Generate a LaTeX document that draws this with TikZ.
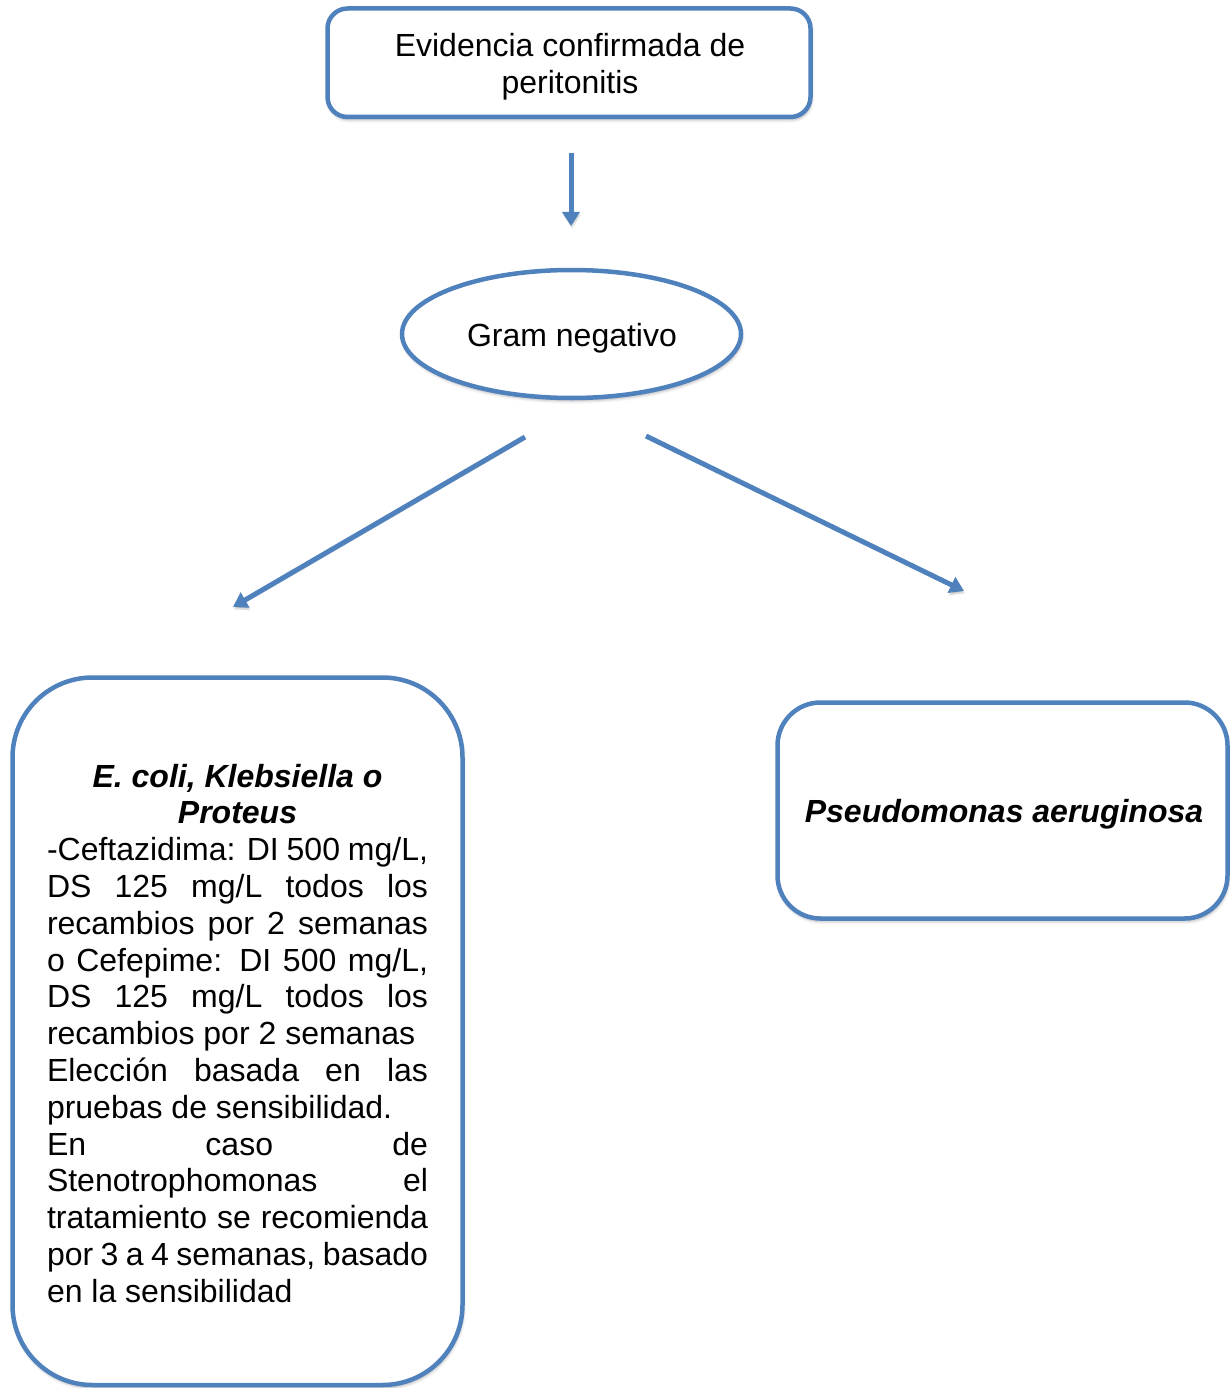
\documentclass[tikz,border=0pt]{standalone}
\usepackage{fontspec}
\setmainfont{Liberation Sans}
\usetikzlibrary{arrows.meta,shapes.geometric,shadows.blur}
\definecolor{ofblue}{HTML}{4F81BD}
\hbadness=10000
% centred stack of lines, baseline on the first line
\newcommand\cstack[1]{\vtop{\halign{\hfil##\hfil\cr#1\crcr}}}
% lines of the treatment text
\newcommand\jline[1]{\hbox to\hsize{#1}}
\newcommand\lline[1]{\hbox to\hsize{#1\hfil}}
\newcommand\headline[1]{\hbox to\hsize{\hfil\bfseries\itshape #1\hfil}}
\begin{document}
\begin{tikzpicture}[x=1pt,y=-1pt,
  every node/.style={font=\fontsize{32}{36.8}\selectfont, inner sep=0pt, outer sep=0pt},
  softshadow/.style={blur shadow={shadow xshift=1pt, shadow yshift=-3pt,
      shadow opacity=30, shadow blur radius=3pt}},
  boxshape/.style={draw=ofblue, line width=4.5pt, fill=white,
      rounded corners=#1, softshadow},
  ovalshape/.style={ellipse, draw=ofblue, line width=4.5pt, fill=white, softshadow},
  arr/.style={draw=ofblue, line width=5pt,
      -{Triangle[length=14pt,width=17pt]},
      preaction={draw=black, opacity=0.12,
        transform canvas={xshift=1pt,yshift=-2.5pt}}},
]
\useasboundingbox (0,0) rectangle (1230,1388);

% boxes
\node (evid) [boxshape=20pt, minimum width=483pt, minimum height=108.5pt]
  at (569,62.75) {};
\node (gram) [ovalshape, minimum width=339pt, minimum height=128pt]
  at (571.5,334) {};
\node (ecoli) [boxshape=80pt, minimum width=450pt, minimum height=707.5pt]
  at (237.5,1031.25) {};
\node (pseudo) [boxshape=43pt, minimum width=450pt, minimum height=216pt]
  at (1002.5,810.5) {};

% texts
\node (evidtxt) [anchor=base] at (570,57)
  {\cstack{Evidencia confirmada de\cr peritonitis}};
\node (gramtxt) [anchor=base] at (572,346) {Gram negativo};
\node (pseudotxt) [anchor=base] at (1004,822)
  {\bfseries\itshape Pseudomonas aeruginosa};
\node (ecolitxt) [anchor=base west] at (47,787) {\vtop{\hsize=381pt
  \headline{E. coli, Klebsiella o}
  \headline{Proteus}
  \jline{-Ceftazidima: DI 500 mg/L,}
  \jline{DS 125 mg/L todos los}
  \jline{recambios por 2 semanas}
  \jline{o Cefepime: DI 500 mg/L,}
  \jline{DS 125 mg/L todos los}
  \lline{recambios por 2 semanas}
  \jline{Elección basada en las}
  \lline{pruebas de sensibilidad.}
  \jline{En caso de}
  \jline{Stenotrophomonas el}
  \jline{tratamiento se recomienda}
  \jline{por 3 a 4 semanas, basado}
  \lline{en la sensibilidad}}};

% connectors
\coordinate (a1s) at (571,153);
\coordinate (a1e) at (571,226);
\coordinate (a2s) at (525,437);
\coordinate (a2e) at (233,607);
\coordinate (a3s) at (646,436);
\coordinate (a3e) at (964,591);
\draw[arr] (a1s) -- (a1e);
\draw[arr] (a2s) -- (a2e);
\draw[arr] (a3s) -- (a3e);
\end{tikzpicture}
\end{document}
